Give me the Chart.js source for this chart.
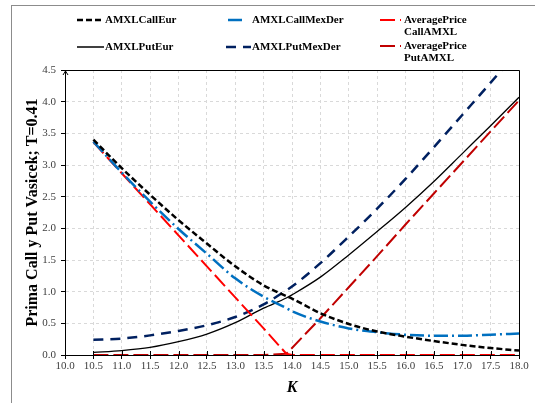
<!DOCTYPE html>
<html lang="es">
<head>
  <meta charset="UTF-8">
  <title>Prima Call y Put Vasicek</title>
  <script src="https://cdn.jsdelivr.net/npm/chart.js"></script>
  <style>
    body {
      margin: 0;
      padding: 0;
      background: #fff;
    }

    .wrap {
      position: relative;
      width: 535px;
      height: 403px;
      overflow: hidden;
    }

    .frame {
      position: absolute;
      left: 11px;
      top: 5px;
      width: 600px;
      height: 500px;
      border-left: 1px solid #8c8c8c;
      border-top: 1px solid #8c8c8c;
    }

    #chart {
      position: absolute;
      left: 0;
      top: 0;
    }
  </style>
</head>
<body>
  <div class="wrap">
    <div class="frame"></div>
    <canvas id="chart" width="535" height="403"></canvas>
  </div>

  <script>
    // strike prices K
    const strikes = [10.5, 11, 11.5, 12, 12.5, 13, 13.5, 13.9, 14, 14.5, 15, 15.5, 16, 16.5, 17, 17.5, 18];

    // premiums
    const callEur    = [3.40, 2.95, 2.53, 2.13, 1.76, 1.40, 1.10, 0.93, 0.89, 0.66, 0.49, 0.37, 0.29, 0.22, 0.16, 0.11, 0.07];
    const callMexDer = [3.37, 2.88, 2.42, 1.99, 1.60, 1.21, 0.92, 0.74, 0.69, 0.53, 0.42, 0.36, 0.32, 0.305, 0.305, 0.32, 0.34];
    const avgCall    = [3.36, 2.87, 2.38, 1.89, 1.40, 0.91, 0.42, 0.02, 0, 0, 0, 0, 0, 0, 0, 0, 0];
    const putEur     = [0.04, 0.07, 0.12, 0.21, 0.33, 0.51, 0.74, 0.90, 0.95, 1.23, 1.58, 1.95, 2.33, 2.74, 3.18, 3.62, 4.07];
    const putMexDer  = [0.24, 0.26, 0.31, 0.38, 0.47, 0.60, 0.80, 1.02, 1.08, 1.45, 1.87, 2.31, 2.78, 3.28, 3.79, 4.30, 4.82];
    const avgPut     = [0, 0, 0, 0, 0, 0, 0, 0.02, 0.11, 0.58, 1.07, 1.56, 2.06, 2.55, 3.04, 3.53, 4.02];

    const seriesNames = ['AMXLCallEur', 'AMXLCallMexDer', 'AveragePrice CallAMXL',
                         'AMXLPutEur', 'AMXLPutMexDer', 'AveragePrice PutAMXL'];

    const xTicks = { min: 10, max: 18, step: 0.5 };
    const yTicks = { min: 0, max: 4.5, step: 0.5 };

    const serif = "'Liberation Serif', 'Times New Roman', serif";

    function pts(values) {
      return strikes.map((k, i) => ({ x: k, y: values[i] }));
    }

    // legend drawn by hand: three columns, two rows
    const legendSpots = [
      { x: 77,  y: 20, w: 27, tx: 105 },
      { x: 228, y: 20, w: 17, tx: 252 },
      { x: 380, y: 20, w: 21, tx: 404 },
      { x: 77,  y: 47, w: 27, tx: 105 },
      { x: 226, y: 47, w: 25, tx: 252 },
      { x: 380, y: 46, w: 21, tx: 404 }
    ];

    const legendPlugin = {
      id: 'legendPlugin',
      afterDraw(chart) {
        const ctx = chart.ctx;
        ctx.save();
        chart.data.datasets.forEach((ds, i) => {
          const s = legendSpots[i];
          ctx.strokeStyle = ds.borderColor;
          ctx.lineWidth = Math.max(ds.borderWidth, 1.5);
          ctx.setLineDash(ds.borderDash || []);
          ctx.beginPath();
          ctx.moveTo(s.x, s.y);
          ctx.lineTo(s.x + s.w, s.y);
          ctx.stroke();

          ctx.fillStyle = '#000';
          ctx.font = 'bold 11px ' + serif;
          ctx.textBaseline = 'middle';
          const lines = ds.label.split(' ');
          lines.forEach((t, j) => ctx.fillText(t, s.tx, s.y + j * 12));
        });
        ctx.restore();
      }
    };

    // top/right frame of the plot plus inner tick marks
    const plotFrame = {
      id: 'plotFrame',
      afterDatasetsDraw(chart) {
        const { ctx, chartArea: a, scales: { x } } = chart;
        ctx.save();
        ctx.strokeStyle = '#000';
        ctx.lineWidth = 1;
        ctx.setLineDash([]);
        ctx.beginPath();
        ctx.moveTo(a.left, a.top + 0.5);
        ctx.lineTo(a.right + 0.5, a.top + 0.5);
        ctx.lineTo(a.right + 0.5, a.bottom);
        x.ticks.forEach(t => {
          const px = Math.round(x.getPixelForValue(t.value)) + 0.5;
          ctx.moveTo(px, a.bottom);
          ctx.lineTo(px, a.bottom - 4);
        });
        ctx.stroke();
        // small arrow head on top of the y axis
        ctx.beginPath();
        ctx.moveTo(a.left - 2, a.top + 5);
        ctx.lineTo(a.left + 0.5, a.top + 1);
        ctx.lineTo(a.left + 3, a.top + 5);
        ctx.stroke();
        ctx.restore();
      }
    };

    new Chart(document.getElementById('chart'), {
      type: 'line',
      data: {
        datasets: [
          {
            label: seriesNames[0], data: pts(callEur),
            borderColor: '#000000', borderWidth: 2.5, borderDash: [6, 3],
            cubicInterpolationMode: 'monotone'
          },
          {
            label: seriesNames[1], data: pts(callMexDer),
            borderColor: '#0070C0', borderWidth: 2.5, borderDash: [14, 4, 2, 4],
            cubicInterpolationMode: 'monotone'
          },
          {
            label: seriesNames[2], data: pts(avgCall),
            borderColor: '#FF0000', borderWidth: 2, borderDash: [15, 5],
            tension: 0
          },
          {
            label: seriesNames[3], data: pts(putEur),
            borderColor: '#000000', borderWidth: 1.3,
            cubicInterpolationMode: 'monotone'
          },
          {
            label: seriesNames[4], data: pts(putMexDer),
            borderColor: '#002060', borderWidth: 2.5, borderDash: [10, 7],
            cubicInterpolationMode: 'monotone'
          },
          {
            label: seriesNames[5], data: pts(avgPut),
            borderColor: '#C00000', borderWidth: 2, borderDash: [15, 5],
            tension: 0
          }
        ]
      },
      options: {
        responsive: false,
        animation: false,
        elements: { point: { radius: 0 } },
        layout: { padding: { left: 0, top: 70, right: 16, bottom: 0 } },
        plugins: {
          legend: { display: false },
          tooltip: { enabled: false }
        },
        scales: {
          x: {
            type: 'linear',
            min: xTicks.min,
            max: xTicks.max,
            afterFit(scale) { scale.height = 48; scale.paddingLeft = 0; scale.paddingRight = 0; },
            ticks: {
              stepSize: xTicks.step,
              padding: 1,
              color: '#404040',
              font: { family: serif, size: 11 },
              maxRotation: 0,
              autoSkip: false,
              callback: v => v.toFixed(1)
            },
            grid: { color: '#d9d9d9', tickColor: '#000', tickLength: 4 },
            border: { color: '#000', width: 1, dash: [3, 3] },
            title: {
              display: true,
              text: 'K',
              color: '#000',
              font: { family: serif, size: 16, weight: 'bold', style: 'italic' },
              padding: { top: 0, bottom: 6 }
            }
          },
          y: {
            min: yTicks.min,
            max: yTicks.max,
            afterFit(scale) { scale.width = 65; scale.paddingTop = 0; scale.paddingBottom = 0; },
            ticks: {
              stepSize: yTicks.step,
              padding: 5,
              color: '#404040',
              font: { family: serif, size: 11 },
              callback: v => v.toFixed(1)
            },
            grid: { color: '#d9d9d9', tickColor: '#000', tickLength: 4 },
            border: { color: '#000', width: 1, dash: [3, 3] },
            title: {
              display: true,
              text: 'Prima Call y Put Vasicek; T=0.41',
              color: '#000',
              font: { family: serif, size: 16, weight: 'bold' },
              padding: { top: 23, bottom: 0 }
            }
          }
        }
      },
      plugins: [plotFrame, legendPlugin]
    });
  </script>
</body>
</html>
